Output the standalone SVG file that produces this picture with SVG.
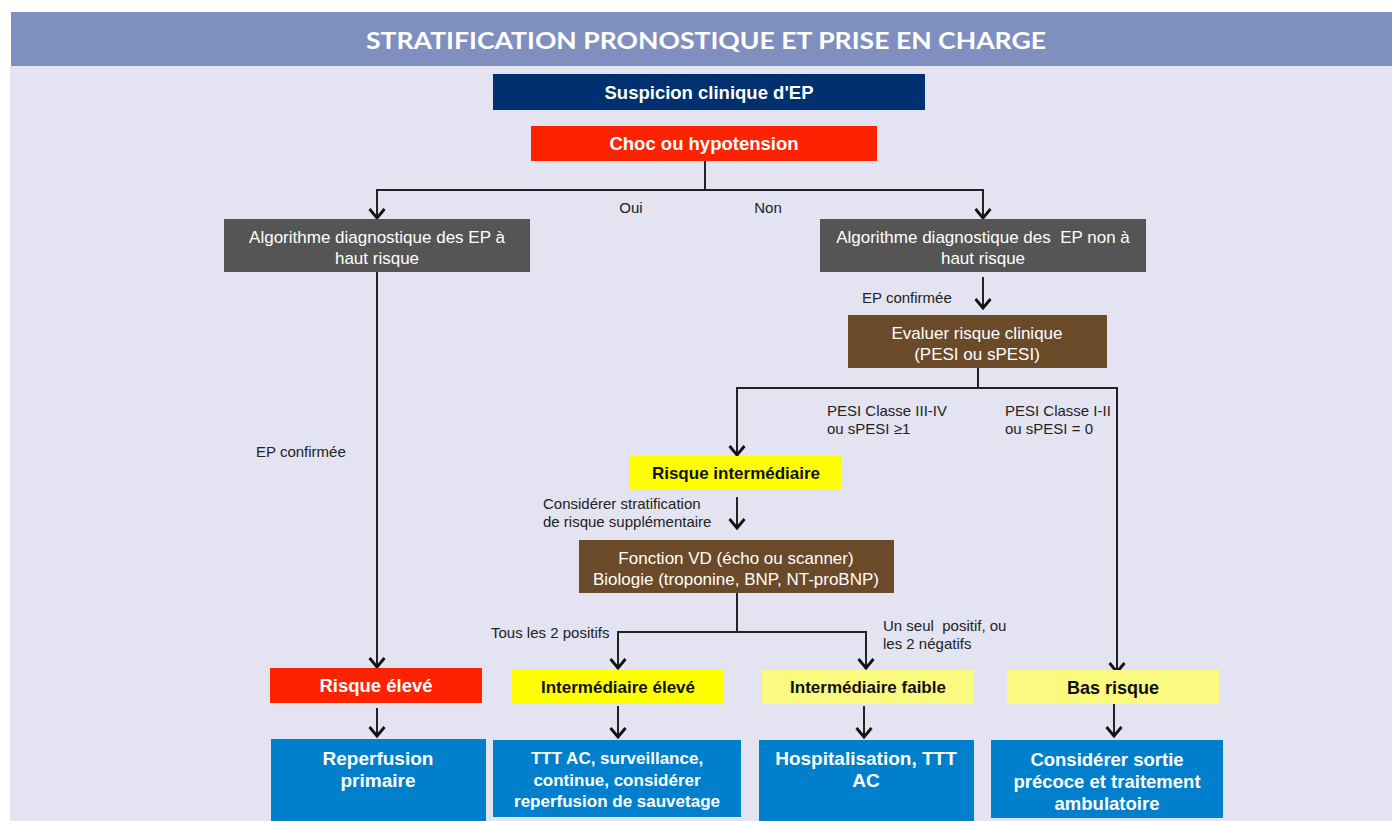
<svg xmlns="http://www.w3.org/2000/svg" width="1392" height="821" viewBox="0 0 1392 821">
<defs>
<marker id="arr" markerWidth="14" markerHeight="18" refX="11" refY="9" orient="auto" markerUnits="userSpaceOnUse" viewBox="0 0 14 18">
<polyline points="2,1.5 11,9 2,16.5" fill="none" stroke="#111" stroke-width="2.8"/>
</marker>
<style>
.t{font-family:"Liberation Sans",Arial,sans-serif;text-anchor:middle}
.w{fill:#fff}
.k{fill:#111}
.b{font-weight:bold}
.n{font-size:17px}
.s{font-size:15px;fill:#222;font-family:"Liberation Sans",Arial,sans-serif}
.c{fill:none;stroke:#222;stroke-width:2}
.ca{fill:none;stroke:#222;stroke-width:2;marker-end:url(#arr)}
</style>
</defs>
<rect x="0" y="0" width="1392" height="821" fill="#fff"/>
<rect x="10" y="66" width="1382" height="755" fill="#e3e3f1"/>
<rect x="11" y="12" width="1381" height="54" fill="#7f8fbf"/>
<text x="706" y="49" font-family="Lato,'Open Sans',sans-serif" font-weight="bold" font-size="23" fill="#fff" text-anchor="middle" textLength="680" lengthAdjust="spacingAndGlyphs">STRATIFICATION PRONOSTIQUE ET PRISE EN CHARGE</text>

<g id="connectors">
<polyline class="c" points="705,161 705,190"/>
<polyline class="ca" points="705,190 377,190 377,218"/>
<polyline class="ca" points="705,190 983,190 983,218"/>
<polyline class="ca" points="377,272 377,667"/>
<polyline class="ca" points="983,277 983,308"/>
<polyline class="c" points="978,368 978,388"/>
<polyline class="ca" points="978,388 737,388 737,455"/>
<polyline class="ca" points="978,388 1117,388 1117,672"/>
<polyline class="ca" points="737,497 737,528"/>
<polyline class="c" points="737,593 737,632"/>
<polyline class="ca" points="737,632 618,632 618,668"/>
<polyline class="ca" points="737,632 866,632 866,668"/>
<polyline class="ca" points="377,708 377,736"/>
<polyline class="ca" points="618,706 618,737"/>
<polyline class="ca" points="864,706 864,737"/>
<polyline class="ca" points="1114,704 1114,736"/>
<text class="s" x="631" y="213" text-anchor="middle">Oui</text>
<text class="s" x="768" y="213" text-anchor="middle">Non</text>
<text class="s" x="256" y="457">EP confirmée</text>
<text class="s" x="862" y="303">EP confirmée</text>
<text class="s" x="827" y="416">PESI Classe III-IV</text>
<text class="s" x="827" y="434">ou sPESI ≥1</text>
<text class="s" x="1005" y="416">PESI Classe I-II</text>
<text class="s" x="1005" y="434">ou sPESI = 0</text>
<text class="s" x="543" y="509">Considérer stratification</text>
<text class="s" x="543" y="527">de risque supplémentaire</text>
<text class="s" x="491" y="638">Tous les 2 positifs</text>
<text class="s" x="883" y="631">Un seul &#160;positif, ou</text>
<text class="s" x="883" y="649">les 2 négatifs</text>
</g>

<g id="n-suspicion">
<rect x="493" y="74" width="432" height="36" fill="#003070"/>
<text class="t w b" x="709" y="99" font-size="18.5">Suspicion clinique d'EP</text>
</g>
<g id="n-choc">
<rect x="531" y="126" width="346" height="35" fill="#ff2200"/>
<text class="t w b" x="704" y="150" font-size="18.5">Choc ou hypotension</text>
</g>
<g id="n-algo-haut">
<rect x="224" y="219" width="306" height="53" fill="#555555"/>
<text class="t w n" x="377" y="243">Algorithme diagnostique des EP à</text>
<text class="t w n" x="377" y="264">haut risque</text>
</g>
<g id="n-algo-non-haut">
<rect x="820" y="219" width="326" height="53" fill="#555555"/>
<text class="t w n" x="983" y="243">Algorithme diagnostique des &#160;EP non à</text>
<text class="t w n" x="983" y="264">haut risque</text>
</g>
<g id="n-evaluer">
<rect x="848" y="315" width="259" height="53" fill="#6b4a2a"/>
<text class="t w n" x="977" y="339">Evaluer risque clinique</text>
<text class="t w n" x="977" y="360">(PESI ou sPESI)</text>
</g>
<g id="n-risque-inter">
<rect x="629" y="456" width="212" height="34" fill="#ffff00"/>
<text class="t k b n" x="736" y="479">Risque intermédiaire</text>
</g>
<g id="n-fonction">
<rect x="579" y="540" width="315" height="53" fill="#6b4a2a"/>
<text class="t w n" x="736" y="564">Fonction VD (écho ou scanner)</text>
<text class="t w n" x="736" y="585">Biologie (troponine, BNP, NT-proBNP)</text>
</g>
<g id="n-risque-eleve">
<rect x="270" y="668" width="212" height="35" fill="#ff2200"/>
<text class="t w b" x="376" y="692" font-size="18.5">Risque élevé</text>
</g>
<g id="n-inter-eleve">
<rect x="512" y="670" width="211" height="34" fill="#ffff00"/>
<text class="t k b n" x="618" y="693">Intermédiaire élevé</text>
</g>
<g id="n-inter-faible">
<rect x="762" y="670" width="212" height="34" fill="#fafa80"/>
<text class="t k b n" x="868" y="693">Intermédiaire faible</text>
</g>
<g id="n-bas-risque">
<rect x="1007" y="670" width="212" height="34" fill="#fafa80"/>
<text class="t k b" x="1113" y="694" font-size="18">Bas risque</text>
</g>
<g id="n-reperfusion">
<rect x="271" y="739" width="215" height="82" fill="#0080cc"/>
<text class="t w b" x="378" y="765" font-size="19">Reperfusion</text>
<text class="t w b" x="378" y="787" font-size="19">primaire</text>
</g>
<g id="n-ttt">
<rect x="493" y="740" width="248" height="77" fill="#0080cc"/>
<text class="t w b" x="617" y="764" font-size="17">TTT AC, surveillance,</text>
<text class="t w b" x="617" y="786" font-size="17">continue, considérer</text>
<text class="t w b" x="617" y="807" font-size="17">reperfusion de sauvetage</text>
</g>
<g id="n-hospit">
<rect x="759" y="740" width="215" height="81" fill="#0080cc"/>
<text class="t w b" x="866" y="765" font-size="19">Hospitalisation, TTT</text>
<text class="t w b" x="866" y="787" font-size="19">AC</text>
</g>
<g id="n-sortie">
<rect x="991" y="740" width="232" height="78" fill="#0080cc"/>
<text class="t w b" x="1107" y="766" font-size="18.5">Considérer sortie</text>
<text class="t w b" x="1107" y="788" font-size="18.5">précoce et traitement</text>
<text class="t w b" x="1107" y="810" font-size="18.5">ambulatoire</text>
</g>
</svg>
